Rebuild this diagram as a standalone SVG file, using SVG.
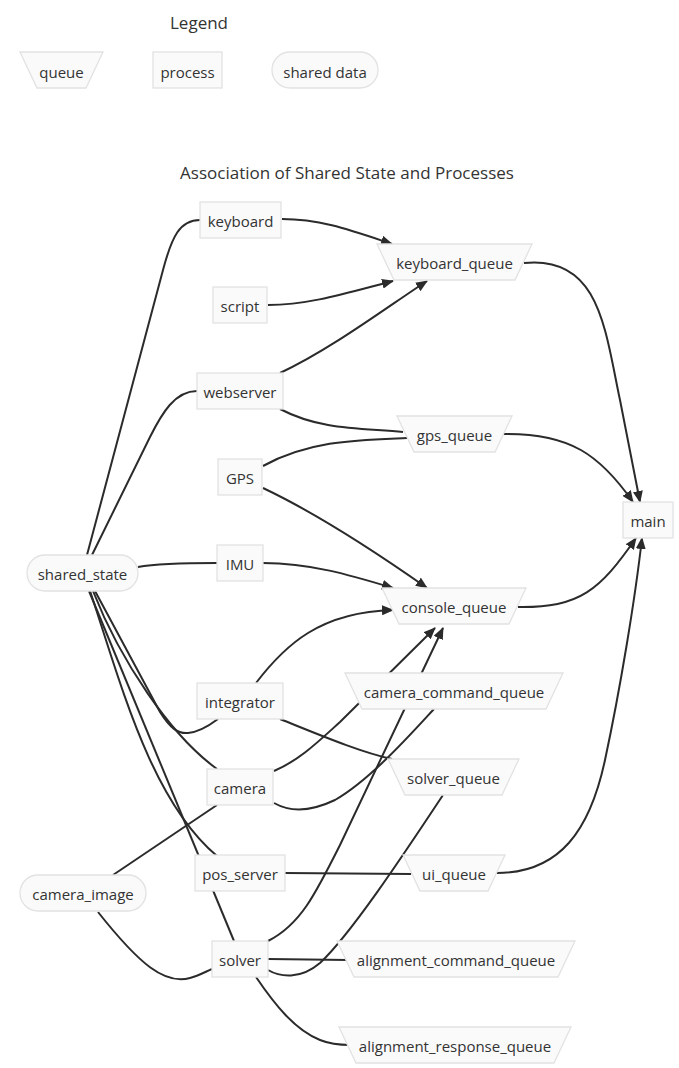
<svg xmlns="http://www.w3.org/2000/svg" width="679" height="1068" viewBox="0 0 679 1068">
<style>
.bg{fill:#ffffff}
.n{fill:#fafafa;stroke:#e2e2e2;stroke-width:1.3}
.t{font-family:"Open Sans","Noto Sans","Liberation Sans",sans-serif;font-size:15px;fill:#333333;text-anchor:middle;dominant-baseline:central}
.title{font-family:"Open Sans","Noto Sans","Liberation Sans",sans-serif;font-size:17px;fill:#333333;text-anchor:middle;dominant-baseline:central}
.e{fill:none;stroke:#2b2b2b;stroke-width:2}
.a{marker-end:url(#arrow)}
</style>
<defs>
<marker id="arrow" viewBox="0 0 12 10" refX="11" refY="5" markerWidth="12" markerHeight="10" markerUnits="userSpaceOnUse" orient="auto">
<path d="M0,0 L12,5 L0,10 z" fill="#2b2b2b"/>
</marker>
</defs>
<rect class="bg" x="0" y="0" width="679" height="1068"/>

<g id="legend">
<text class="title" x="199" y="22">Legend</text>
<g id="legend-queue"><polygon class="n" points="20,52 103,52 86,88 37,88"/><text class="t" x="61.5" y="72">queue</text></g>
<g id="legend-process"><rect class="n" x="153" y="52" width="69" height="36"/><text class="t" x="187.5" y="72">process</text></g>
<g id="legend-shared"><rect class="n" x="272" y="52" width="106" height="36" rx="18" ry="18"/><text class="t" x="325" y="72">shared data</text></g>
</g>

<text class="title" x="347" y="172">Association of Shared State and Processes</text>

<g id="connectors">
<path class="e" d="M87,555 L163,270 C172,236 180,220 200,220"/>
<path class="e" d="M92,555 L150,437 C162,413 175,391 197,391"/>
<path class="e" d="M138,567 C160,563 190,563 217,563"/>
<path class="e" d="M95,591 L160,712 C170,728 178,734 188,733 C200,732 210,725 218,719"/>
<path class="e" d="M93,591 C120,660 170,735 217,769"/>
<path class="e" d="M90,591 C120,680 150,800 217,856"/>
<path class="e" d="M89,591 L234,941"/>
<path class="e" d="M113,875 L217,805"/>
<path class="e" d="M98,912 C140,965 165,985 190,978 C198,976 205,972 212,969"/>

<path class="e a" d="M282,219 C320,219 350,230 392,244"/>
<path class="e a" d="M268,305 C310,305 350,292 393,281"/>
<path class="e a" d="M280,373 C330,350 390,305 427,281"/>
<path class="e" d="M280,409 C320,430 360,428 403,432"/>
<path class="e" d="M263,466 C310,440 360,440 407,438"/>
<path class="e a" d="M263,488 C320,515 380,555 427,588"/>
<path class="e a" d="M263,563 C310,563 350,575 393,588"/>
<path class="e a" d="M256,683 C285,645 320,612 393,610"/>
<path class="e" d="M280,719 C320,735 360,752 392,759"/>
<path class="e a" d="M274,771 C300,760 320,740 340,722 L435,628"/>
<path class="e" d="M274,803 C290,812 310,812 335,800 C370,780 410,735 434,709"/>
<path class="e a" d="M268,941 C300,925 315,895 340,845 L443,628"/>
<path class="e" d="M268,970 C280,977 300,980 320,963 C350,935 400,860 443,795"/>
<path class="e" d="M268,959 L348,960"/>
<path class="e" d="M256,977 C275,1005 295,1030 320,1040 C330,1044 340,1045 350,1045"/>
<path class="e" d="M285,873 L411,874"/>

<path class="e a" d="M524,263 C600,255 605,330 620,400 L640,502"/>
<path class="e a" d="M504,434 C570,433 600,455 633,502"/>
<path class="e a" d="M518,607 C580,608 600,590 636,538"/>
<path class="e a" d="M497,873 C560,873 590,830 605,760 C620,690 635,600 642,538"/>
</g>

<g id="node-shared_state"><rect class="n" x="27" y="555" width="111" height="36" rx="18" ry="18"/><text class="t" x="82.5" y="574">shared_state</text></g>
<g id="node-camera_image"><rect class="n" x="20" y="875" width="126" height="36" rx="18" ry="18"/><text class="t" x="83" y="894">camera_image</text></g>

<g id="node-keyboard"><rect class="n" x="200" y="202" width="81" height="36"/><text class="t" x="240.5" y="221">keyboard</text></g>
<g id="node-script"><rect class="n" x="213" y="287" width="54" height="36"/><text class="t" x="240" y="306">script</text></g>
<g id="node-webserver"><rect class="n" x="197" y="373" width="86" height="36"/><text class="t" x="240" y="392">webserver</text></g>
<g id="node-GPS"><rect class="n" x="218" y="459" width="44" height="36"/><text class="t" x="240" y="478">GPS</text></g>
<g id="node-IMU"><rect class="n" x="217" y="545" width="46" height="36"/><text class="t" x="240" y="564">IMU</text></g>
<g id="node-integrator"><rect class="n" x="197" y="683" width="86" height="36"/><text class="t" x="240" y="702">integrator</text></g>
<g id="node-camera"><rect class="n" x="207" y="769" width="66" height="36"/><text class="t" x="240" y="788">camera</text></g>
<g id="node-pos_server"><rect class="n" x="195" y="855" width="90" height="36"/><text class="t" x="240" y="874">pos_server</text></g>
<g id="node-solver"><rect class="n" x="212" y="941" width="56" height="36"/><text class="t" x="240" y="960">solver</text></g>

<g id="node-keyboard_queue"><polygon class="n" points="377,244 532,244 515,280 394,280"/><text class="t" x="454.5" y="263">keyboard_queue</text></g>
<g id="node-gps_queue"><polygon class="n" points="397,416 512,416 495,452 414,452"/><text class="t" x="454.5" y="435">gps_queue</text></g>
<g id="node-console_queue"><polygon class="n" points="382,588 526,588 509,624 399,624"/><text class="t" x="454" y="607">console_queue</text></g>
<g id="node-camera_command_queue"><polygon class="n" points="345,673 563,673 546,709 362,709"/><text class="t" x="454" y="692">camera_command_queue</text></g>
<g id="node-solver_queue"><polygon class="n" points="388,759 519,759 502,795 405,795"/><text class="t" x="453.5" y="778">solver_queue</text></g>
<g id="node-ui_queue"><polygon class="n" points="403,855 505,855 488,891 420,891"/><text class="t" x="454" y="874">ui_queue</text></g>
<g id="node-alignment_command_queue"><polygon class="n" points="337,941 575,941 558,977 354,977"/><text class="t" x="456" y="960">alignment_command_queue</text></g>
<g id="node-alignment_response_queue"><polygon class="n" points="339,1027 571,1027 554,1063 356,1063"/><text class="t" x="455" y="1046">alignment_response_queue</text></g>

<g id="node-main"><rect class="n" x="623" y="502" width="50" height="36"/><text class="t" x="648" y="521">main</text></g>
</svg>
